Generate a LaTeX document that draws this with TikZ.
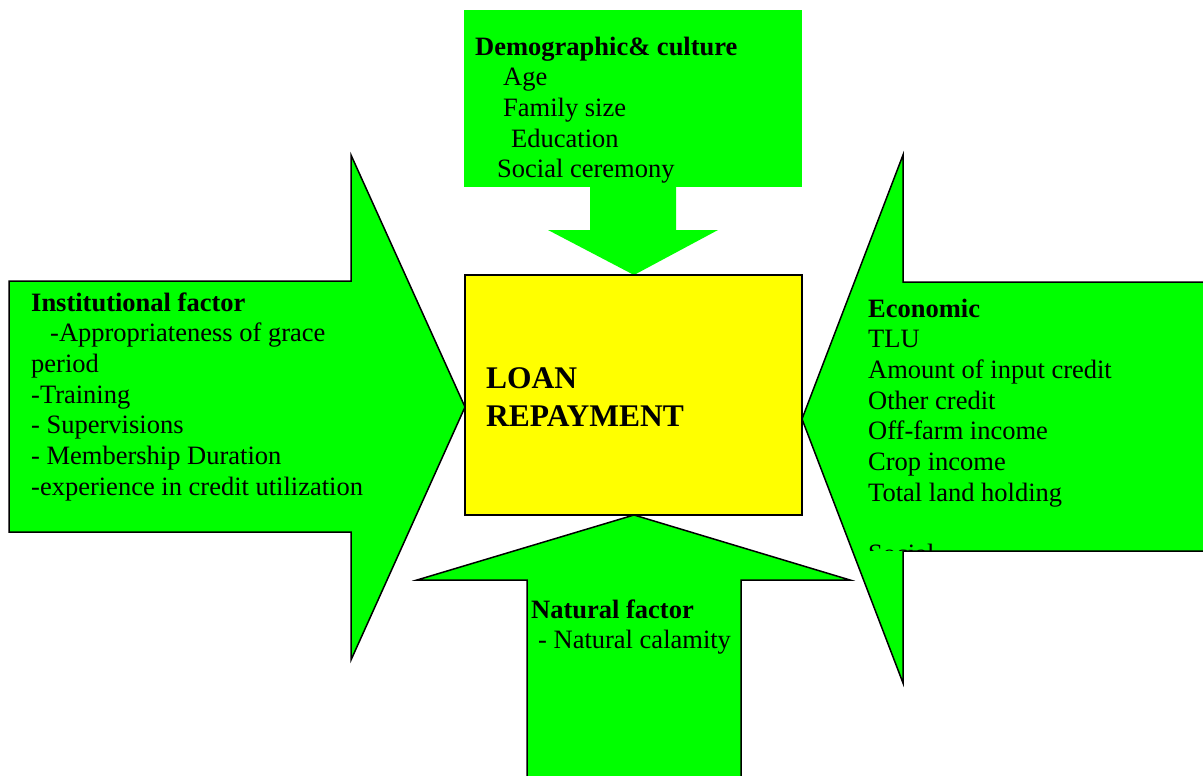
\documentclass[tikz,border=0pt]{standalone}
\usepackage{fontspec}
\setmainfont{Liberation Serif}
\usepackage{xcolor}
\usepackage{tikz}
\usetikzlibrary{positioning}

\definecolor{leafgreen}{RGB}{0,255,0}
\definecolor{loanyellow}{RGB}{255,255,0}

\begin{document}
\begin{tikzpicture}[
  x=1pt, y=-1pt,
  bigarrow/.style={fill=leafgreen, draw=black, line width=1.5pt, line join=miter},
  flatarrow/.style={fill=leafgreen},
  loanbox/.style={draw, fill=loanyellow, line width=1.5pt, minimum width=337pt, minimum height=240pt, inner sep=0pt},
  % texts are placed by the baseline of their last line
  factor/.style={anchor=base west, align=left, inner sep=0pt, font=\fontsize{26.5}{30.7}\selectfont},
  title/.style={anchor=base west, align=left, inner sep=0pt, font=\fontsize{31.5}{38}\selectfont\bfseries}
]
\useasboundingbox (0,0) rectangle (1203,776);

% demographic box with its downward arrow (no outline)
\fill[flatarrow] (464,10) rectangle (802,187);
\fill[flatarrow] (590,186) -- (676,186) -- (676,230) -- (718,230) -- (634,275)
  -- (548,230) -- (590,230) -- cycle;

% left, right and bottom block arrows
\draw[bigarrow] (9,281) -- (351,281) -- (351,155) -- (465,407) -- (351,660)
  -- (351,532) -- (9,532) -- cycle;
\draw[bigarrow] (1210,282) -- (903,282) -- (903,155) -- (802,419) -- (903,683)
  -- (903,551) -- (1210,551) -- cycle;
\draw[bigarrow] (634,515) -- (850,580) -- (741,580) -- (741,790) -- (527,790)
  -- (527,580) -- (417,580) -- cycle;

% centre box
\node[loanbox] (loan) at (633.5,395) {};
\node[title] (loantext) at (486,426) {LOAN\\REPAYMENT};

% factor texts
\node[factor] (demo) at (475,177.8) {\textbf{Demographic\& culture}\\
  \hspace*{28pt}Age\\
  \hspace*{28pt}Family size\\
  \hspace*{36pt}Education\\
  \hspace*{22pt}Social ceremony};

\node[factor] (inst) at (31,495.2) {\textbf{Institutional factor}\\
  \hspace*{19pt}-Appropriateness of grace\\
  period\\
  -Training\\
  - Supervisions\\
  - Membership Duration\\
  -experience in credit utilization};

% economic list, its last line cut by the lower edge of the shaft
\begin{scope}
  \clip (860,290) rectangle (1210,550);
  \node[factor] (econ) at (868,562.6) {\textbf{Economic}\\
    TLU\\
    Amount of input credit\\
    Other credit\\
    Off-farm income\\
    Crop income\\
    Total land holding\\
    \strut\\
    Social};
\end{scope}

\node[factor] (natural) at (531,648.7) {\textbf{Natural factor}\\
  \hspace*{7pt}- Natural calamity};
\end{tikzpicture}
\end{document}
